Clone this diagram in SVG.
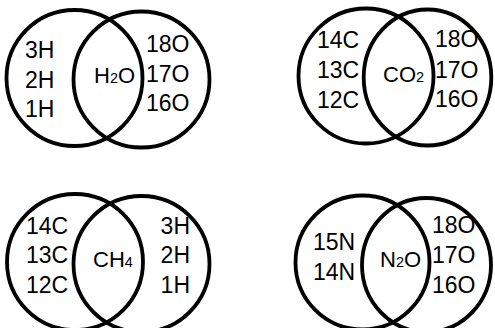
<svg xmlns="http://www.w3.org/2000/svg" width="495" height="328" viewBox="0 0 495 328">
<style>
.c{fill:none;stroke:#000;stroke-width:3.8}
.t{font-family:"Liberation Sans",Arial,sans-serif;font-size:23px;fill:#000}
.m{font-family:"Liberation Sans",Arial,sans-serif;font-size:22px;fill:#000}
.s{font-size:14.5px}
</style>
<rect width="495" height="328" fill="#fff"/>
<g id="h2o">
<circle class="c" cx="74.5" cy="78" r="68"/>
<circle class="c" cx="141.5" cy="79.5" r="68"/>
<text class="t" x="25" y="58">3H</text>
<text class="t" x="25" y="87.5">2H</text>
<text class="t" x="25" y="117">1H</text>
<text class="m" x="94" y="83">H<tspan class="s">2</tspan>O</text>
<text class="t" x="146" y="52">18O</text>
<text class="t" x="146" y="82">17O</text>
<text class="t" x="146" y="111">16O</text>
</g>
<g id="co2">
<circle class="c" cx="366" cy="76" r="67.5"/>
<ellipse class="c" cx="427.5" cy="77.5" rx="63.8" ry="68"/>
<text class="t" x="317" y="48">14C</text>
<text class="t" x="317" y="78">13C</text>
<text class="t" x="317" y="108">12C</text>
<text class="m" x="383" y="82">CO<tspan class="s">2</tspan></text>
<text class="t" x="435" y="47">18O</text>
<text class="t" x="435" y="78">17O</text>
<text class="t" x="435" y="107">16O</text>
</g>
<g id="ch4">
<circle class="c" cx="75" cy="262" r="68"/>
<circle class="c" cx="141.5" cy="264" r="68"/>
<text class="t" x="26" y="233.5">14C</text>
<text class="t" x="26" y="263">13C</text>
<text class="t" x="26" y="292.5">12C</text>
<text class="m" x="93" y="267">CH<tspan class="s">4</tspan></text>
<text class="t" x="190" y="233.5" text-anchor="end">3H</text>
<text class="t" x="190" y="263" text-anchor="end">2H</text>
<text class="t" x="190" y="293" text-anchor="end">1H</text>
</g>
<g id="n2o">
<circle class="c" cx="362.5" cy="262.5" r="67"/>
<ellipse class="c" cx="426.5" cy="265" rx="64.5" ry="67"/>
<text class="t" x="313" y="250">15N</text>
<text class="t" x="313" y="280">14N</text>
<text class="m" x="380" y="267">N<tspan class="s">2</tspan>O</text>
<text class="t" x="432" y="233">18O</text>
<text class="t" x="432" y="263">17O</text>
<text class="t" x="432" y="293">16O</text>
</g>
</svg>
